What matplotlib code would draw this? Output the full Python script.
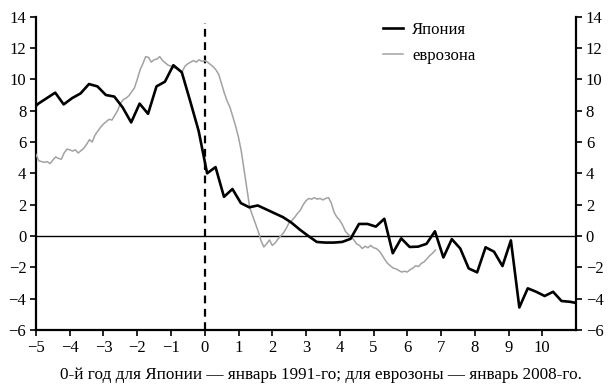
import numpy as np
import matplotlib
matplotlib.use('Agg')
import matplotlib.pyplot as plt

plt.rcParams['font.family'] = ['Liberation Serif', 'DejaVu Serif']
plt.rcParams['font.size'] = 12

# ── данные ──────────────────────────────────────────────────────────────
# Япония: квартальные точки, t = -5.18 + 0.25*k (лет от 0-го года)
JP_T0 = -5.18
jp_vals = [7.95, 8.45, 8.8, 9.15, 8.4, 8.8, 9.1, 9.7, 9.55, 9.0,
           8.9, 8.2, 7.25, 8.45, 7.8, 9.55, 9.85, 10.9, 10.45, 8.6,
           6.7, 4.0, 4.4, 2.5, 3.0, 2.1, 1.83, 1.95, 1.7, 1.45,
           1.2, 0.85, 0.4, 0.0, -0.38, -0.42, -0.42, -0.38, -0.18, 0.77,
           0.77, 0.6, 1.1, -1.1, -0.15, -0.7, -0.68, -0.5, 0.3, -1.37,
           -0.2, -0.8, -2.07, -2.32, -0.72, -1.0, -1.92, -0.28, -4.56, -3.34,
           -3.56, -3.83, -3.56, -4.15, -4.2, -4.3]

# еврозона: месячные точки, t = -5 + m/12
EZ_T0 = -5.0
ez_vals = [5.2, 4.8, 4.75, 4.7, 4.75, 4.62, 4.85, 5.05, 4.95, 4.9,
           5.3, 5.55, 5.5, 5.42, 5.5, 5.3, 5.45, 5.6, 5.85, 6.15,
           6.0, 6.45, 6.7, 6.95, 7.15, 7.3, 7.45, 7.4, 7.7, 8.0,
           8.45, 8.7, 8.8, 8.95, 9.2, 9.45, 10.0, 10.6, 11.0, 11.45,
           11.4, 11.1, 11.25, 11.3, 11.45, 11.2, 11.05, 10.9, 10.85, 10.75,
           10.7, 10.55, 10.5, 10.85, 11.0, 11.1, 11.2, 11.1, 11.25, 11.15,
           11.2, 11.1, 10.95, 10.8, 10.6, 10.3, 9.7, 9.1, 8.6, 8.2,
           7.6, 7.0, 6.3, 5.4, 4.2, 3.0, 1.8, 1.3, 0.8, 0.3,
           -0.3, -0.7, -0.5, -0.25, -0.6, -0.45, -0.2, 0.0, 0.2, 0.5,
           0.85, 1.0, 1.2, 1.45, 1.65, 2.0, 2.25, 2.4, 2.35, 2.45,
           2.35, 2.4, 2.3, 2.4, 2.45, 2.1, 1.5, 1.2, 1.0, 0.7,
           0.3, 0.1, -0.05, -0.25, -0.5, -0.6, -0.8, -0.65, -0.75, -0.6,
           -0.75, -0.8, -0.95, -1.2, -1.5, -1.75, -1.9, -2.05, -2.1, -2.2,
           -2.3, -2.25, -2.3, -2.15, -2.05, -1.9, -1.95, -1.75, -1.65, -1.45,
           -1.25, -1.1, -0.9]

jp_t = JP_T0 + 0.25 * np.arange(len(jp_vals))
ez_t = EZ_T0 + np.arange(len(ez_vals)) / 12

xticks = list(range(-5, 11))
yticks = list(range(-6, 15, 2))
xlabel = '0-й год для Японии — январь 1991-го; для еврозоны — январь 2008-го.'

# ── рисунок ─────────────────────────────────────────────────────────────
fig = plt.figure(figsize=(6.13, 3.88), dpi=100)
ax = fig.add_axes([0.0587, 0.1495, 0.881, 0.8075])

ax.plot(ez_t, ez_vals, color='#a2a2a2', lw=1.1, label='еврозона', zorder=3)
ax.plot(jp_t, jp_vals, color='black', lw=1.9, label='Япония', zorder=4)
ax.axhline(0, color='black', lw=1.0, zorder=2)
ax.plot([0, 0], [-6, 13.6], color='black', lw=1.6, ls=(0, (3.5, 2.5)), zorder=2)

ax.set_xlim(-5, 11)
ax.set_ylim(-6, 14)
ax.set_xticks(xticks)
ax.set_yticks(yticks)
ax.tick_params(direction='out', length=4, width=1.2, labelsize=12, pad=3,
               right=True, labelright=True, top=False)
for s in ('left', 'right', 'bottom'):
    ax.spines[s].set_linewidth(1.6)
ax.spines['top'].set_visible(False)

h, l = ax.get_legend_handles_labels()
ax.legend(h[::-1], l[::-1], loc='upper left', bbox_to_anchor=(0.615, 1.03),
          frameon=False, fontsize=12, handlelength=1.2, handletextpad=0.55,
          labelspacing=0.6)

fig.text(0.524, 0.034, xlabel, ha='center', va='center', fontsize=12.3)

fig.savefig('out.png', dpi=100)
